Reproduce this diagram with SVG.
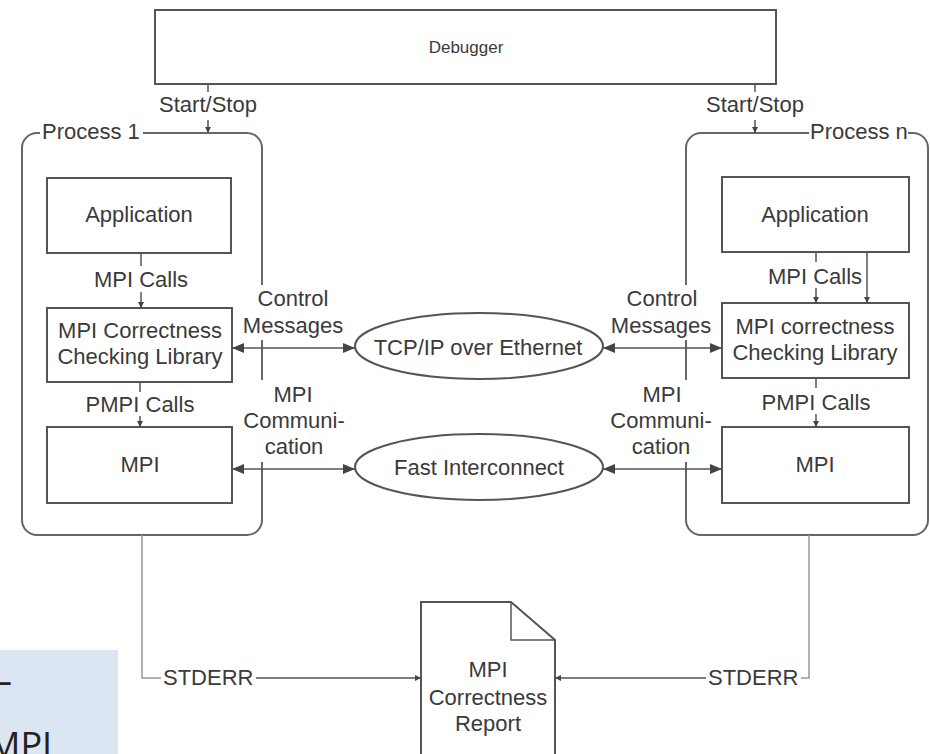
<svg xmlns="http://www.w3.org/2000/svg" width="930" height="754" viewBox="0 0 930 754">
<style>
.t{font-family:"Liberation Sans",Arial,Helvetica,sans-serif;font-size:22px;fill:#3a3a3a;text-anchor:middle}
.d{font-size:17px}
.s{text-anchor:start}
.box{fill:#fff;stroke:#555;stroke-width:2}
.proc{fill:none;stroke:#666;stroke-width:2}
.ln{fill:none;stroke:#555;stroke-width:1.5}
.lg{fill:none;stroke:#999;stroke-width:1.5}
.ell{fill:#fff;stroke:#555;stroke-width:2}
.nt{font-family:"Open Sans","Noto Sans",sans-serif;font-size:36px;fill:#222}
</style>
<defs>
<marker id="big" viewBox="0 0 12 10" refX="12" refY="5" markerWidth="12" markerHeight="10" markerUnits="userSpaceOnUse" orient="auto-start-reverse"><path d="M0,0 L12,5 L0,10 z" fill="#444"/></marker>
<marker id="small" viewBox="0 0 6 6" refX="6" refY="3" markerWidth="6" markerHeight="6" markerUnits="userSpaceOnUse" orient="auto"><path d="M0,0 L6,3 L0,6 z" fill="#444"/></marker>
</defs>
<rect width="930" height="754" fill="#fff"/>

<g id="note">
<rect x="0" y="650" width="118" height="104" fill="#dce6f2"/>
<text class="nt" x="-6" y="694">–</text>
<text class="nt" x="-12" y="758">MPI</text>
</g>

<g id="process1">
<path class="proc" d="M143,133 H247 A15,15 0 0 1 262,148 V285 M262,340 V380 M262,462 V520 A15,15 0 0 1 247,535 H37 A15,15 0 0 1 22,520 V148 A15,15 0 0 1 37,133 H40"/>
<text class="t s" x="42" y="139">Process 1</text>
</g>
<g id="processn">
<path class="proc" d="M809,133 H701 A15,15 0 0 0 686,148 V285 M686,340 V380 M686,462 V520 A15,15 0 0 0 701,535 H913 A15,15 0 0 0 928,520 V148 A15,15 0 0 0 913,133 H908"/>
<text class="t s" x="810" y="139">Process n</text>
</g>

<g id="debugger">
<rect class="box" x="155" y="10" width="621" height="74"/>
<text class="t d" x="466" y="53">Debugger</text>
</g>

<g id="app1">
<rect class="box" x="47" y="178" width="184" height="75"/>
<text class="t" x="139" y="222">Application</text>
</g>
<g id="lib1">
<rect class="box" x="47" y="308" width="185" height="74"/>
<text class="t" x="140" y="338">MPI Correctness</text>
<text class="t" x="140" y="364">Checking Library</text>
</g>
<g id="mpi1">
<rect class="box" x="47" y="427" width="185" height="76"/>
<text class="t" x="140" y="472">MPI</text>
</g>

<g id="appn">
<rect class="box" x="722" y="177" width="187" height="75"/>
<text class="t" x="815" y="222">Application</text>
</g>
<g id="libn">
<rect class="box" x="722" y="303" width="187" height="75"/>
<text class="t" x="815" y="334">MPI correctness</text>
<text class="t" x="815" y="360">Checking Library</text>
</g>
<g id="mpin">
<rect class="box" x="722" y="427" width="187" height="76"/>
<text class="t" x="815" y="472">MPI</text>
</g>

<g id="tcp">
<ellipse class="ell" cx="479" cy="346" rx="124" ry="33"/>
<text class="t" x="478" y="355">TCP/IP over Ethernet</text>
</g>
<g id="fast">
<ellipse class="ell" cx="479" cy="467" rx="124" ry="33"/>
<text class="t" x="479" y="475">Fast Interconnect</text>
</g>

<g id="report">
<path class="box" d="M421,602 H511 L555,640 V760 H421 Z"/>
<path class="ln" d="M511,602 V640 H555"/>
<text class="t" x="488" y="677">MPI</text>
<text class="t" x="488" y="705">Correctness</text>
<text class="t" x="488" y="731">Report</text>
</g>

<g id="connectors">
<path class="ln" d="M208,84 V92"/>
<path class="ln" d="M208,120 V133" marker-end="url(#small)"/>
<text class="t" x="208" y="112">Start/Stop</text>
<path class="ln" d="M755,84 V92"/>
<path class="ln" d="M755,120 V133" marker-end="url(#small)"/>
<text class="t" x="755" y="112">Start/Stop</text>

<path class="ln" d="M141,253 V266"/>
<path class="ln" d="M141,292 V308" marker-end="url(#small)"/>
<text class="t" x="141" y="287">MPI Calls</text>
<path class="ln" d="M140,382 V392"/>
<path class="ln" d="M140,416 V427" marker-end="url(#small)"/>
<text class="t" x="140" y="412">PMPI Calls</text>

<path class="ln" d="M816,252 V262"/>
<path class="ln" d="M816,288 V303" marker-end="url(#small)"/>
<path class="ln" d="M867,252 V303" marker-end="url(#small)"/>
<text class="t" x="815" y="284">MPI Calls</text>
<path class="ln" d="M816,378 V388"/>
<path class="ln" d="M816,414 V427" marker-end="url(#small)"/>
<text class="t" x="816" y="410">PMPI Calls</text>

<path class="ln" d="M232,348 H355" marker-start="url(#big)" marker-end="url(#big)"/>
<path class="ln" d="M603,348 H722" marker-start="url(#big)" marker-end="url(#big)"/>
<path class="ln" d="M232,469 H355" marker-start="url(#big)" marker-end="url(#big)"/>
<path class="ln" d="M603,469 H722" marker-start="url(#big)" marker-end="url(#big)"/>

<text class="t" x="293" y="306">Control</text>
<text class="t" x="293" y="333">Messages</text>
<text class="t" x="293" y="402">MPI</text>
<text class="t" x="294" y="428">Communi-</text>
<text class="t" x="294" y="454">cation</text>
<text class="t" x="662" y="306">Control</text>
<text class="t" x="661" y="333">Messages</text>
<text class="t" x="662" y="402">MPI</text>
<text class="t" x="661" y="428">Communi-</text>
<text class="t" x="661" y="454">cation</text>

<path class="lg" d="M142,535 V678 H161"/>
<path class="ln" d="M256,678 H421" marker-end="url(#small)"/>
<text class="t s" x="163" y="685">STDERR</text>
<path class="lg" d="M809,535 V678 H801"/>
<path class="ln" d="M706,678 H555" marker-end="url(#small)"/>
<text class="t s" x="708" y="685">STDERR</text>
</g>
</svg>
